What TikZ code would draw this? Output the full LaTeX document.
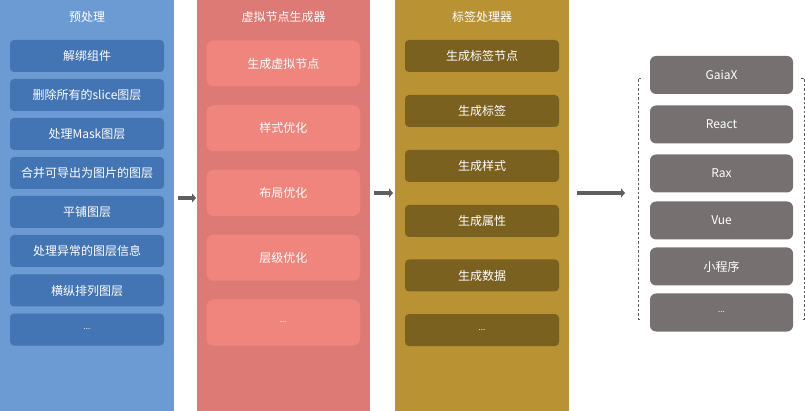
\documentclass[tikz,border=0pt]{standalone}
\usepackage{fontspec}
\newfontfamily\cjk{Noto Sans CJK SC}
\usepackage{tikz}
\usetikzlibrary{arrows.meta, calc, positioning}
\definecolor{preBg}{HTML}{6B9BD2}
\definecolor{preBx}{HTML}{4374B3}
\definecolor{vnBg}{HTML}{DE7A75}
\definecolor{vnBx}{HTML}{F0857E}
\definecolor{tagBg}{HTML}{B99234}
\definecolor{tagBx}{HTML}{7B6120}
\definecolor{outBx}{HTML}{767170}
\definecolor{flowC}{HTML}{5E5E5E}
\tikzset{ x=1pt, y=-1pt, >={Triangle[length=4pt, width=9pt]},
  Col/.style={inner sep=0pt, minimum width=#1pt, minimum height=411pt, anchor=north west},
  Tt/.style={text=white, font=\cjk\fontsize{12}{14}\selectfont, inner sep=0pt},
  Bx/.style={text=white, font=\cjk\fontsize{12}{14}\selectfont, inner sep=0pt},
  PreB/.style={Bx, fill=preBx, minimum width=154pt, minimum height=32pt, rounded corners=4pt},
  VnB/.style={Bx, fill=vnBx, minimum width=153.5pt, minimum height=46pt, rounded corners=7pt},
  TagB/.style={Bx, fill=tagBx, minimum width=154pt, minimum height=32pt, rounded corners=4pt},
  OutB/.style={Bx, fill=outBx, minimum width=143pt, minimum height=38pt, rounded corners=6pt},
  Dt/.style={font=\cjk\fontsize{8}{10}\selectfont},
  Fl/.style={draw=flowC, line width=3.5pt, ->},
  Br/.style={draw=flowC, dashed, line width=0.6pt, dash pattern=on 2.5pt off 2pt} }
\def\myTy{17}

\begin{document}
\begin{tikzpicture}
\useasboundingbox (0,0) rectangle (805,411);
% columns
\node[Col=174, fill=preBg] (pre) at (0,0) {};
\node[Col=173, fill=vnBg] (vn) at (197,0) {};
\node[Col=174, fill=tagBg] (tag) at (395,0) {};
\node[Tt] (preT) at (87,\myTy) {预处理};
\node[Tt] (vnT) at (283.5,\myTy) {虚拟节点生成器};
\node[Tt] (tagT) at (482,\myTy) {标签处理器};
% preprocessing
\node[PreB] (p1) at (87,56) {解绑组件};
\node[PreB] (p2) at (87,95) {删除所有的slice图层};
\node[PreB] (p3) at (87,134) {处理Mask图层};
\node[PreB] (p4) at (87,173) {合并可导出为图片的图层};
\node[PreB] (p5) at (87,212) {平铺图层};
\node[PreB] (p6) at (87,251) {处理异常的图层信息};
\node[PreB] (p7) at (87,290.5) {横纵排列图层};
\node[PreB, Dt] (p8) at (87,329.5) {...};
% virtual nodes
\node[VnB] (v1) at (283.25,63.5) {生成虚拟节点};
\node[VnB] (v2) at (283.25,128.25) {样式优化};
\node[VnB] (v3) at (283.25,193) {布局优化};
\node[VnB] (v4) at (283.25,257.75) {层级优化};
\node[VnB, Dt] (v5) at (283.25,322.5) {...};
% tags
\node[TagB] (t1) at (482,56) {生成标签节点};
\node[TagB] (t2) at (482,111) {生成标签};
\node[TagB] (t3) at (482,166) {生成样式};
\node[TagB] (t4) at (482,221) {生成属性};
\node[TagB] (t5) at (482,275.5) {生成数据};
\node[TagB, Dt] (t6) at (482,330) {...};
% output
\node[OutB] (o1) at (721.5,75) {GaiaX};
\node[OutB] (o2) at (721.5,124.5) {React};
\node[OutB] (o3) at (721.5,173.5) {Rax};
\node[OutB] (o4) at (721.5,220.5) {Vue};
\node[OutB] (o5) at (721.5,266.5) {小程序};
\node[OutB, Dt] (o6) at (721.5,312.5) {...};
\draw[Br] (641,78) -- (638,78) coordinate (L) -- (638,319) -- (641,319);
\draw[Br] (801,78) -- (804,78) coordinate (R) -- (804,319) -- (801,319);
% flow
\draw[Fl, shorten <=4pt, shorten >=1pt] (pre.east |- 0,198) -- (vn.west |- 0,198);
\draw[Fl, shorten <=4pt, shorten >=2pt] (vn.east |- 0,193) -- (tag.west |- 0,193);
\draw[Fl, shorten <=8pt, shorten >=13pt] (tag.east |- 0,193) -- (L |- 0,193);
\end{tikzpicture}
\end{document}
